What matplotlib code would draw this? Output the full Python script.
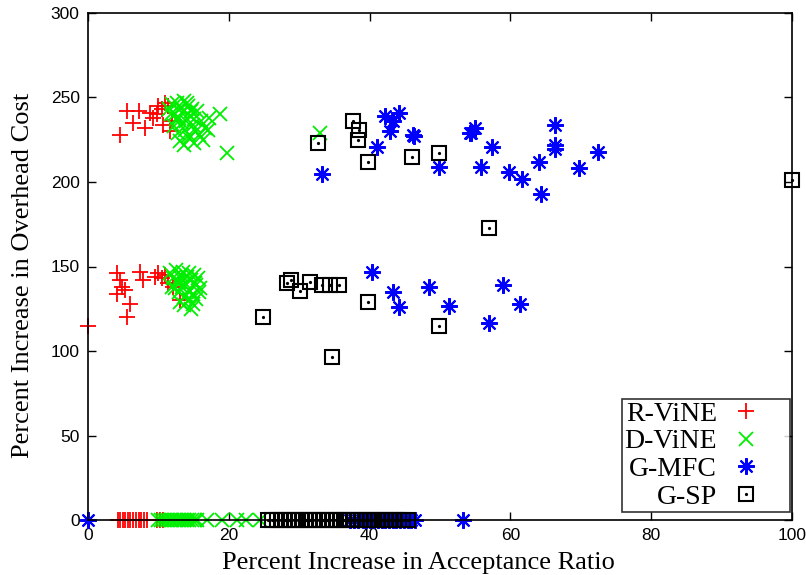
import matplotlib
matplotlib.use("Agg")
import matplotlib.pyplot as plt
from matplotlib.lines import Line2D

# ---------------- data ----------------
rvine_x = [4.6, 5.5, 6.4, 7.3, 8.1, 8.8, 9.75, 10.5, 10.7, 11.4, 11.6, 10.0, 9.2, 11.0, 12.0,
           0.0, 4.1, 4.5, 4.1, 4.8, 5.3, 6.0, 5.5, 7.4, 7.8, 9.9, 10.5, 13.1, 10.9, 11.3, 9.5, 12.1,
           4.2, 4.6, 5.0, 5.3, 5.7, 6.0, 6.4, 6.8, 7.2, 7.5, 8.0, 8.4, 9.8, 10.2, 10.6]
rvine_y = [228, 242, 235, 242, 232, 241, 240, 243, 234, 245, 230, 245, 238, 247, 236,
           115, 146, 142, 134, 138, 136, 128, 120, 147, 142, 146, 143, 130, 145, 140, 144, 138,
           0, 0, 0, 0, 0, 0, 0, 0, 0, 0, 0, 0, 0, 0, 0]

dvine_x = [11.5, 12.0, 12.3, 12.6, 12.9, 13.1, 13.4, 13.6, 13.9, 14.2, 14.5, 14.8, 15.1, 15.5,
           12.2, 12.8, 13.3, 13.8, 14.3, 14.9, 15.4, 16.0, 16.6, 17.2, 13.0, 13.7, 14.4, 15.0,
           15.8, 16.4, 17.0, 11.8, 12.5, 14.0, 14.6, 18.75, 19.8, 33.0,
           11.6, 12.1, 12.5, 12.9, 13.2, 13.5, 13.8, 14.1, 14.4, 14.7, 15.0, 15.3, 15.6,
           12.4, 12.9, 13.4, 13.9, 14.4, 14.9, 15.4, 15.9, 13.1, 13.7, 14.3, 14.9, 12.7,
           13.6, 14.6, 15.2, 11.9, 13.0, 15.7,
           10.0, 10.4, 10.8, 11.2, 11.6, 12.0, 12.4, 12.8, 13.2, 13.6, 14.0, 14.4, 14.8,
           15.2, 15.5, 16.9, 19.0, 21.1, 22.5, 24.4]
dvine_y = [243, 246, 240, 247, 238, 244, 241, 248, 236, 245, 239, 243, 237, 242,
           233, 229, 235, 231, 228, 234, 230, 236, 232, 238, 224, 222, 226, 223,
           228, 225, 231, 240, 237, 247, 242, 240, 217, 229,
           146, 143, 148, 141, 145, 147, 140, 144, 146, 142, 145, 139, 143,
           137, 135, 138, 133, 136, 134, 131, 137, 129, 127, 130, 128, 141,
           132, 125, 140, 138, 144, 135,
           0, 0, 0, 0, 0, 0, 0, 0, 0, 0, 0, 0, 0,
           0, 0, 0, 0, 0, 0, 0]

gmfc_x = [33.2, 42.2, 44.2, 42.9, 43.3, 41.1, 46.2, 46.3, 49.8, 54.4, 55.0, 54.3, 57.4, 55.8,
          59.8, 61.7, 64.1, 64.4, 66.4, 66.4, 66.4, 69.7, 72.5,
          40.3, 43.3, 44.2, 48.5, 51.3, 56.9, 58.9, 61.3,
          0.0, 37.2, 37.8, 38.4, 39.0, 39.5, 40.1, 40.6, 41.2, 41.7, 42.2, 42.8, 43.3, 43.8,
          44.3, 44.9, 45.4, 45.9, 46.4, 53.3]
gmfc_y = [205, 239, 240.6, 230, 236, 221, 228, 227, 209, 229, 232, 229, 220.5, 209,
          206, 202, 212, 193, 233.7, 222, 219.5, 208, 217.5,
          146.7, 135, 126, 138, 126.4, 116.5, 139, 128,
          0, 0, 0, 0, 0, 0, 0, 0, 0, 0, 0, 0, 0, 0,
          0, 0, 0, 0, 0, 0]

gsp_x = [32.6, 37.6, 38.5, 38.3, 39.8, 46.0, 49.8, 57.0, 100.0,
         24.8, 28.2, 28.9, 30.1, 31.5, 33.2, 34.4, 35.6, 34.6, 39.8, 49.9,
         25.6, 26.2, 26.8, 27.4, 28.0, 28.6, 29.2, 29.8, 30.4, 31.0, 31.6, 32.2, 32.8,
         33.4, 34.0, 34.6, 35.2, 35.8, 36.4, 37.0, 37.6, 38.2, 38.8, 39.4, 40.0, 40.6,
         41.2, 41.8, 42.4, 43.0, 43.6, 44.2, 44.8, 45.4]
gsp_y = [223, 236, 231, 225, 212, 215, 217, 172.6, 201,
         120, 140, 142, 135.5, 141, 139, 139, 139, 96.5, 129, 114.6,
         0, 0, 0, 0, 0, 0, 0, 0, 0, 0, 0, 0, 0,
         0, 0, 0, 0, 0, 0, 0, 0, 0, 0, 0, 0, 0,
         0, 0, 0, 0, 0, 0, 0, 0]

series_names = ["R-ViNE", "D-ViNE", "G-MFC", "G-SP"]
x_ticks = [0, 20, 40, 60, 80, 100]
y_ticks = [0, 50, 100, 150, 200, 250, 300]

# ---------------- plot ----------------
fig = plt.figure(figsize=(8.06, 5.75), dpi=100)
ax = fig.add_axes([88 / 806, 1 - 520 / 575, (792 - 88) / 806, (520 - 13) / 575])

red_kw = dict(marker="+", color="#ff0000", markersize=11, markeredgewidth=1.3)
grn_kw = dict(marker="x", color="#00ee00", markersize=10, markeredgewidth=1.3)
blu_kw = dict(marker=(8, 2, 0), color="#0000ff", markersize=12, markeredgewidth=1.5)
sq_kw = dict(marker="s", markerfacecolor="none", markeredgecolor="black",
             markersize=10.5, markeredgewidth=1.5)
dot_kw = dict(marker="o", color="black", markersize=1.3)

kw = dict(linestyle="none", clip_on=False)
ax.plot(rvine_x, rvine_y, **red_kw, **kw)
ax.plot(dvine_x, dvine_y, **grn_kw, **kw)
ax.plot(gmfc_x, gmfc_y, **blu_kw, **kw)
ax.plot(gsp_x, gsp_y, **sq_kw, **kw)
ax.plot(gsp_x, gsp_y, **dot_kw, **kw)

ax.set_xlim(0, 100)
ax.set_ylim(0, 300)
ax.set_xticks(x_ticks)
ax.set_yticks(y_ticks)
ax.tick_params(direction="in", length=6, width=1, top=True, right=True,
               labelsize=12.5, pad=6)
for lab in ax.get_xticklabels() + ax.get_yticklabels():
    lab.set_family("Liberation Sans")
for s in ax.spines.values():
    s.set_linewidth(1.2)

serif = "Liberation Serif"
ax.set_xlabel("Percent Increase in Acceptance Ratio", family=serif, fontsize=19, labelpad=6)
ax.set_ylabel("Percent Increase in Overhead Cost", family=serif, fontsize=19, labelpad=12)
ax.xaxis.label.set_x(0.469)
ax.yaxis.label.set_y(0.483)

handles = [
    Line2D([], [], linestyle="none", **red_kw),
    Line2D([], [], linestyle="none", **grn_kw),
    Line2D([], [], linestyle="none", **blu_kw),
    (Line2D([], [], linestyle="none", **sq_kw), Line2D([], [], linestyle="none", **dot_kw)),
]
leg = ax.legend(handles, series_names, loc="lower right", bbox_to_anchor=(0.997, 0.016),
                markerfirst=False, frameon=True, fancybox=False, edgecolor="black",
                prop={"family": serif, "size": 20}, handlelength=3.0, handletextpad=-0.45,
                labelspacing=0.08, borderpad=0.08, borderaxespad=0.0)
leg.get_frame().set_linewidth(1.2)
for t in leg.get_texts():
    t.set_ha("right")
leg.set_zorder(5)

fig.savefig("out.png", dpi=100)
